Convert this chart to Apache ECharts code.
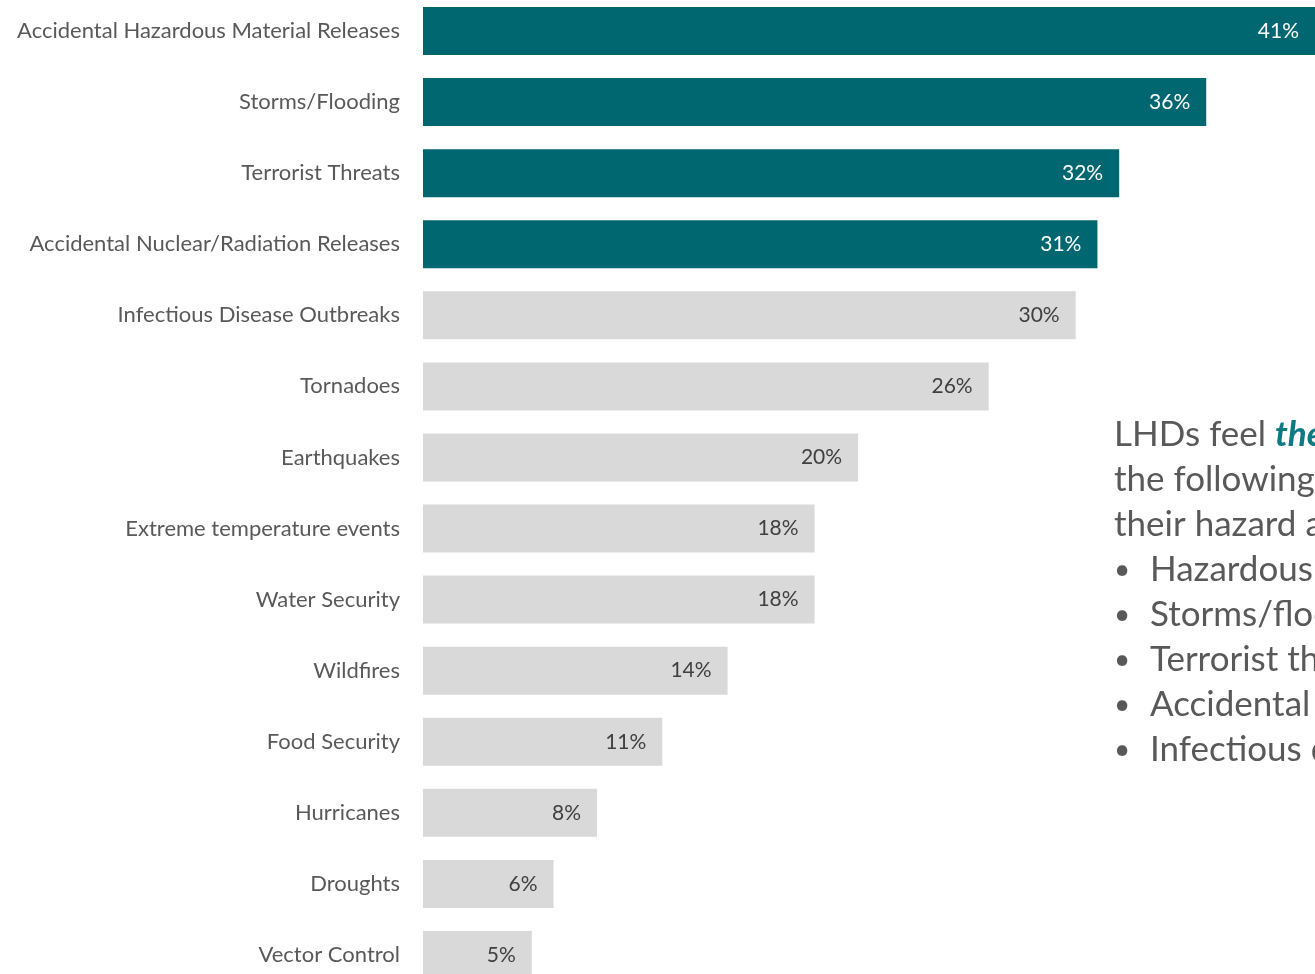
<!DOCTYPE html>
<html>
<head>
<meta charset="utf-8">
<script src="https://cdn.jsdelivr.net/npm/echarts@6/dist/echarts.min.js"></script>
<style>
  html, body { margin: 0; padding: 0; background: #ffffff; }
  #chart { width: 1315px; height: 974px; }
</style>
</head>
<body>
<div id="chart"></div>
<script>
// Hazards ranked by share of LHDs that feel most prepared
const categories = [
  'Accidental Hazardous Material Releases',
  'Storms/Flooding',
  'Terrorist Threats',
  'Accidental Nuclear/Radiation Releases',
  'Infectious Disease Outbreaks',
  'Tornadoes',
  'Earthquakes',
  'Extreme temperature events',
  'Water Security',
  'Wildfires',
  'Food Security',
  'Hurricanes',
  'Droughts',
  'Vector Control'
];
const percentValues = [41, 36, 32, 31, 30, 26, 20, 18, 18, 14, 11, 8, 6, 5];
const highlightCount = 4; // top hazards drawn in teal

const TEAL = '#00666F';
const GREY = '#D9D9D9';

const barData = percentValues.map((v, i) => ({
  value: v,
  itemStyle: { color: i < highlightCount ? TEAL : GREY },
  label: { color: i < highlightCount ? '#FFFFFF' : '#404040' }
}));

const chart = echarts.init(document.getElementById('chart'), null, { renderer: 'canvas' });

chart.setOption({
  backgroundColor: '#ffffff',
  animation: false,
  grid: {
    left: 423, right: 0, top: -4.5, height: 995,
    containLabel: false,
    outerBoundsMode: 'none'
  },
  xAxis: {
    type: 'value',
    min: 0,
    max: 41,
    show: false
  },
  yAxis: {
    type: 'category',
    data: categories,
    inverse: true,
    axisLine: { show: false },
    axisTick: { show: false },
    axisLabel: {
      margin: 23,
      color: '#595959',
      fontFamily: 'Lato, "Open Sans", sans-serif',
      fontSize: 22
    }
  },
  series: [{
    type: 'bar',
    data: barData,
    barWidth: 48,
    label: {
      show: true,
      position: 'insideRight',
      distance: 16,
      fontFamily: 'Lato, "Open Sans", sans-serif',
      fontSize: 21,
      formatter: p => p.value + '%'
    }
  }],
  graphic: [{
    type: 'text',
    left: 1114,
    top: 412,
    style: {
      text: '{n|LHDs feel }{b|the most prepared for}\n{n|the following hazards within}\n{n|their hazard assessment:}',
      lineHeight: 45,
      rich: {
        n: { fontSize: 35, fontFamily: 'Lato, sans-serif', fill: '#595959', lineHeight: 45 },
        b: { fontSize: 35, fontFamily: 'Lato, sans-serif', fontWeight: 'bold', fontStyle: 'italic', fill: '#0B7A83', lineHeight: 45 }
      }
    }
  }, {
    type: 'text',
    left: 1114,
    top: 547,
    style: {
      text: '•\n•\n•\n•\n•',
      fontSize: 28,
      fontFamily: 'Lato, sans-serif',
      fill: '#595959',
      lineHeight: 45
    }
  }, {
    type: 'text',
    left: 1150,
    top: 547,
    style: {
      text: 'Hazardous materials\nStorms/flooding\nTerrorist threats\nAccidental nuclear releases\nInfectious disease outbreaks',
      fontSize: 35,
      fontFamily: 'Lato, sans-serif',
      fill: '#595959',
      lineHeight: 45
    }
  }]
});
</script>
</body>
</html>
